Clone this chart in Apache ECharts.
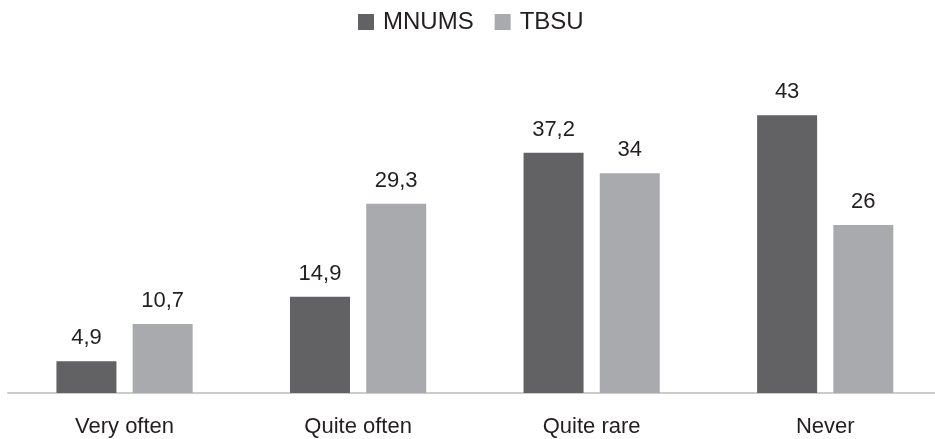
<!DOCTYPE html>
<html>
<head>
<meta charset="utf-8">
<script src="https://cdn.jsdelivr.net/npm/echarts@6/dist/echarts.min.js"></script>
<style>
  html, body { margin: 0; padding: 0; background: #ffffff; overflow: hidden; }
  #chart { width: 942px; height: 439px; }
</style>
</head>
<body>
<div id="chart"></div>
<script>
// Frequency categories and the share (%) reported by each group
const categories = ['Very often', 'Quite often', 'Quite rare', 'Never'];
const mnums = [4.9, 14.9, 37.2, 43];
const tbsu = [10.7, 29.3, 34, 26];

const textColor = '#231f20';
const font = 'Liberation Sans, Arial, Helvetica, sans-serif';

const labelStyle = {
  show: true,
  position: 'top',
  distance: 12,
  color: textColor,
  fontFamily: font,
  fontSize: 22,
  formatter: p => String(p.value).replace('.', ',')
};

const chart = echarts.init(document.getElementById('chart'), null, { renderer: 'canvas' });
chart.setOption({
  animation: false,
  backgroundColor: '#ffffff',
  legend: {
    top: 5,
    left: 353,
    itemWidth: 16,
    itemHeight: 16,
    itemGap: 21,
    icon: 'rect',
    textStyle: { color: textColor, fontFamily: font, fontSize: 24, padding: [0, 0, 0, 4] },
    data: ['MNUMS', 'TBSU']
  },
  grid: { left: 7.75, right: 0, top: 70, bottom: 46, containLabel: false },
  xAxis: {
    type: 'category',
    data: categories,
    axisLine: { show: true, lineStyle: { color: '#bcbcbc', width: 1.5 } },
    axisTick: { show: false },
    axisLabel: { color: textColor, fontFamily: font, fontSize: 22, margin: 23 }
  },
  yAxis: {
    type: 'value',
    min: 0,
    max: 50,
    show: false,
    splitLine: { show: false }
  },
  series: [
    {
      name: 'MNUMS',
      type: 'bar',
      data: mnums,
      barWidth: 60,
      barGap: '27%',
      itemStyle: { color: '#626265' },
      label: labelStyle
    },
    {
      name: 'TBSU',
      type: 'bar',
      data: tbsu,
      barWidth: 60,
      itemStyle: { color: '#a9aaad' },
      label: labelStyle
    }
  ]
});
</script>
</body>
</html>
